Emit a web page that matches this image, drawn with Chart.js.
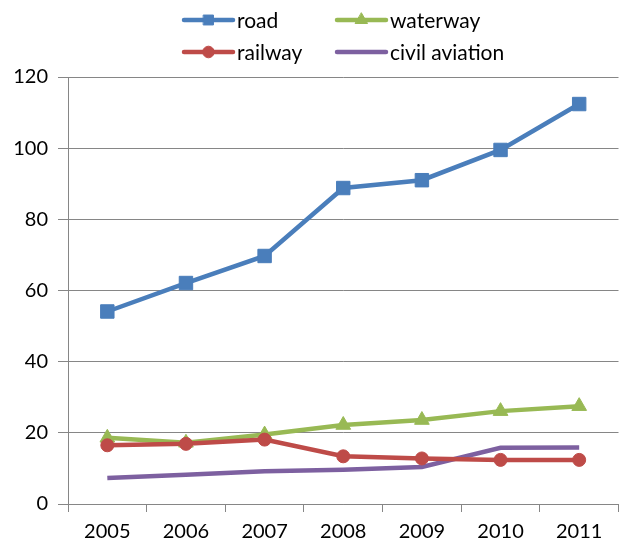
<!DOCTYPE html>
<html>
<head>
<meta charset="utf-8">
<script src="https://cdn.jsdelivr.net/npm/chart.js@4/dist/chart.umd.min.js"></script>
<style>
  html, body { margin: 0; padding: 0; background: #fff; }
  #wrap { width: 629px; height: 540px; position: relative; }
</style>
</head>
<body>
<div id="wrap"><canvas id="c" width="629" height="540"></canvas></div>
<script>
// Freight volume by transport mode, 2005-2011
const years = ['2005', '2006', '2007', '2008', '2009', '2010', '2011'];
const road = [54.1, 62.1, 69.7, 88.8, 91.0, 99.5, 112.4];
const waterway = [18.6, 17.2, 19.5, 22.2, 23.6, 26.1, 27.5];
const railway = [16.5, 16.9, 18.1, 13.4, 12.8, 12.4, 12.4];
const civilAviation = [7.3, 8.2, 9.2, 9.6, 10.4, 15.8, 15.9];
const yTicks = [0, 20, 40, 60, 80, 100, 120];

const FONT = 'Lato, "Open Sans", "Liberation Sans", sans-serif';

const series = [
  { label: 'road', data: road, color: '#4A7EBB', style: 'rect', radius: 9.5, legendRadius: 7 },
  { label: 'railway', data: railway, color: '#BE4B48', style: 'circle', radius: 6.5, legendRadius: 5.8 },
  { label: 'waterway', data: waterway, color: '#98B954', style: 'triangle', radius: 8.5, legendRadius: 7 },
  { label: 'civil aviation', data: civilAviation, color: '#7D60A0', style: false, radius: 0, legendRadius: 0 }
];

// Two-column legend drawn above the plot
const legendSlots = {
  'road':           { x: 184, y: 20 },
  'waterway':       { x: 337, y: 20 },
  'railway':        { x: 184, y: 52 },
  'civil aviation': { x: 337, y: 52 }
};

const gridLegend = {
  id: 'gridLegend',
  afterDraw(chart) {
    const ctx = chart.ctx;
    ctx.save();
    chart.data.datasets.forEach((ds, i) => {
      const slot = legendSlots[ds.label];
      if (!slot) return;
      const x0 = slot.x, x1 = slot.x + 49, y = slot.y;
      ctx.strokeStyle = ds.borderColor;
      ctx.lineWidth = 4.5;
      ctx.lineCap = 'round';
      ctx.beginPath();
      ctx.moveTo(x0, y);
      ctx.lineTo(x1, y);
      ctx.stroke();
      if (ds.pointStyle) {
        ctx.fillStyle = ds.backgroundColor;
        ctx.strokeStyle = ds.borderColor;
        ctx.lineWidth = 1;
        Chart.helpers.drawPoint(ctx, {
          pointStyle: ds.pointStyle,
          radius: series[i].legendRadius,
          borderWidth: 1
        }, (x0 + x1) / 2, y);
      }
      ctx.fillStyle = '#000';
      ctx.font = '21px ' + FONT;
      ctx.textBaseline = 'middle';
      ctx.textAlign = 'left';
      ctx.fillText(ds.label, x1 + 4, y + 1);
    });
    ctx.restore();
  }
};

new Chart(document.getElementById('c'), {
  type: 'line',
  data: {
    labels: years,
    datasets: series.map(s => ({
      label: s.label,
      data: s.data,
      borderColor: s.color,
      backgroundColor: s.color,
      borderWidth: 4.5,
      pointStyle: s.style,
      pointRadius: s.radius,
      pointHoverRadius: s.radius,
      pointBorderWidth: 1,
      tension: 0
    }))
  },
  options: {
    responsive: false,
    animation: false,
    layout: { padding: { top: 77, right: 9, left: 0, bottom: 0 } },
    plugins: {
      legend: { display: false },
      tooltip: { enabled: false }
    },
    scales: {
      x: {
        offset: true,
        afterFit(scale) { scale.height = 36; },
        grid: {
          offset: true,
          drawOnChartArea: false,
          drawTicks: true,
          tickLength: 8,
          color: '#868686',
          lineWidth: 1
        },
        border: { color: '#868686', width: 1 },
        ticks: {
          color: '#000',
          font: { family: FONT, size: 20 },
          padding: 8,
          maxRotation: 0
        }
      },
      y: {
        min: 0,
        max: 120,
        afterFit(scale) { scale.width = 68; },
        afterBuildTicks(scale) { scale.ticks = yTicks.map(v => ({ value: v })); },
        grid: {
          color: '#868686',
          lineWidth: 1,
          tickLength: 10
        },
        border: { color: '#868686', width: 1 },
        ticks: {
          color: '#000',
          font: { family: FONT, size: 20 },
          padding: 10
        }
      }
    }
  },
  plugins: [gridLegend]
});
</script>
</body>
</html>
